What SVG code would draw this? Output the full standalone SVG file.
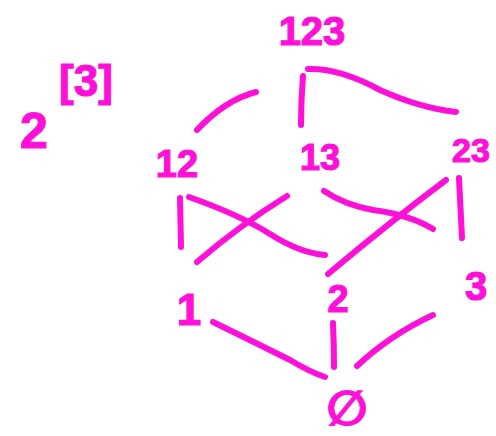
<svg xmlns="http://www.w3.org/2000/svg" width="496" height="436" viewBox="0 0 496 436">
<style>
text{font-family:"Liberation Sans","DejaVu Sans",sans-serif;font-weight:bold;fill:#ff10d8;stroke:#ff10d8;stroke-width:1.2;text-anchor:middle}
.e{fill:none;stroke:#ff10d8;stroke-width:6;stroke-linecap:round;stroke-linejoin:round}
</style>
<rect width="496" height="436" fill="#ffffff"/>
<g id="title">
<text x="34" y="148" font-size="50">2</text>
<text x="86" y="96" font-size="44">[3]</text>
</g>
<g id="connectors">
<path class="e" d="M197,130 Q225,100 256,92"/>
<path class="e" d="M303,76 Q301,100 301,125"/>
<path class="e" d="M308,69 Q340,68 380,90 Q420,108 456,112"/>
<path class="e" d="M180,198 L181,247"/>
<path class="e" d="M189,197 Q240,215 270,234 Q300,253 325,255"/>
<path class="e" d="M287,196 Q240,225 197,262"/>
<path class="e" d="M324,191 Q345,205 373,210 Q410,215 433,229"/>
<path class="e" d="M446,180 Q390,222 328,274"/>
<path class="e" d="M459,178 L462,238"/>
<path class="e" d="M213,322 Q260,345 290,360 Q310,372 325,377"/>
<path class="e" d="M333,323 Q334,345 334,367"/>
<path class="e" d="M433,315 Q390,335 357,366"/>
</g>
<g id="n123"><text x="312" y="45" font-size="40">123</text></g>
<g id="n12"><text x="177" y="177" font-size="38">12</text></g>
<g id="n13"><text x="320" y="170" font-size="36">13</text></g>
<g id="n23"><text x="471" y="162" font-size="34">23</text></g>
<g id="n1"><text x="189" y="325" font-size="44">1</text></g>
<g id="n2"><text x="338" y="312" font-size="38">2</text></g>
<g id="n3"><text x="476" y="300" font-size="40">3</text></g>
<g id="nempty"><text x="347" y="425" font-size="48">∅</text></g>
</svg>
